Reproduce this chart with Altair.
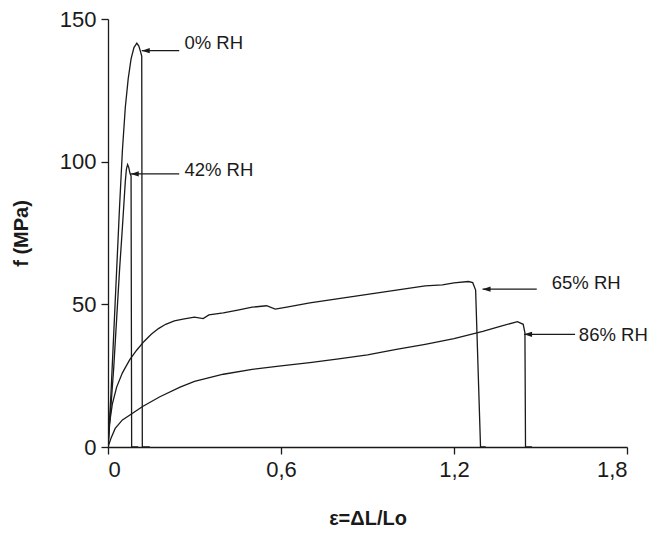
import altair as alt
import pandas as pd

# ---- data ----
series_names = ["0% RH", "42% RH", "65% RH", "86% RH"]

x_0 = [0, 0.01, 0.02, 0.03, 0.04, 0.05, 0.06, 0.07, 0.08, 0.09, 0.10, 0.107, 0.113, 0.117, 0.119, 0.145]
y_0 = [0, 18, 40, 62, 84, 104, 119, 129, 136, 140, 141.5, 140.5, 138.5, 137, 0, 0]

x_42 = [0, 0.01, 0.02, 0.03, 0.04, 0.05, 0.055, 0.06, 0.064, 0.068, 0.072, 0.076, 0.08, 0.082, 0.105]
y_42 = [0, 14, 28, 45, 62, 77, 85, 93, 97.5, 99, 98, 96, 95, 0, 0]

x_65 = [0, 0.005, 0.015, 0.03, 0.05, 0.075, 0.1, 0.125, 0.15, 0.175, 0.2, 0.23, 0.26, 0.3, 0.33, 0.35,
        0.4, 0.45, 0.5, 0.55, 0.58, 0.62, 0.7, 0.8, 0.9, 1.0, 1.1, 1.16, 1.2, 1.25, 1.265, 1.275, 1.292, 1.31]
y_65 = [0, 8, 15, 21, 26, 30.5, 34, 37, 39.5, 41.5, 43, 44.2, 44.8, 45.5, 45, 46.3,
        47, 48, 49, 49.5, 48.3, 49, 50.5, 52, 53.5, 55, 56.5, 56.8, 57.5, 58, 57.6, 55, 0, 0]

x_86 = [0, 0.01, 0.025, 0.05, 0.08, 0.12, 0.18, 0.25, 0.3, 0.4, 0.5, 0.6, 0.7, 0.8, 0.9, 1.0, 1.1,
        1.2, 1.3, 1.36, 1.42, 1.44, 1.446, 1.448, 1.47]
y_86 = [0, 3, 6.5, 9.5, 11.5, 14.2, 17.6, 21, 23, 25.5, 27.2, 28.4, 29.6, 30.9, 32.3, 34.2, 36,
        38, 40.5, 42.3, 43.9, 43, 40, 0, 0]

# annotations
label_x = [0.265, 0.265, 1.539, 1.633]
label_y = [141.6, 97.1, 57.4, 39.3]
arrow_tail = [0.247, 0.247, 1.487, 1.62]
arrow_tip = [0.117, 0.079, 1.299, 1.443]
arrow_y = [138.9, 95.7, 55.3, 39.5]

# ---- build tables ----
rows = []
for name, xs, ys in zip(series_names, [x_0, x_42, x_65, x_86], [y_0, y_42, y_65, y_86]):
    for i, (xv, yv) in enumerate(zip(xs, ys)):
        rows.append({"series": name, "x": xv, "y": yv, "i": i})
curves = pd.DataFrame(rows)

ann = pd.DataFrame({
    "label": series_names,
    "lx": label_x, "ly": label_y,
    "tail": arrow_tail, "tip": arrow_tip, "ay": arrow_y,
})

FONT = "Liberation Sans"
INK = "#1a1a1a"

xscale = alt.Scale(domain=[0, 1.8], nice=False, zero=False)
yscale = alt.Scale(domain=[0, 150], nice=False)

xaxis = alt.Axis(values=[0, 0.6, 1.2, 1.8],
                 labelExpr="replace(format(datum.value, '.1~f'), '.', ',')",
                 title="ε=ΔL/Lo", grid=False)
yaxis = alt.Axis(values=[0, 50, 100, 150], title="f (MPa)", grid=False)

lines = alt.Chart(curves).mark_line(color=INK, strokeWidth=1.3, clip=True).encode(
    x=alt.X("x:Q", scale=xscale, axis=xaxis),
    y=alt.Y("y:Q", scale=yscale, axis=yaxis),
    detail="series:N",
    order="i:Q",
)

arrows = alt.Chart(ann).mark_rule(color=INK, strokeWidth=1.2).encode(
    x=alt.X("tail:Q", scale=xscale),
    x2="tip:Q",
    y=alt.Y("ay:Q", scale=yscale),
)

heads = alt.Chart(ann).mark_point(
    shape="M0,0 L2,-0.65 L2,0.65 Z", size=64, filled=True, color=INK, opacity=1
).encode(
    x=alt.X("tip:Q", scale=xscale),
    y=alt.Y("ay:Q", scale=yscale),
)

texts = alt.Chart(ann).mark_text(
    align="left", baseline="middle", font=FONT, fontSize=18.5, color=INK
).encode(
    x=alt.X("lx:Q", scale=xscale),
    y=alt.Y("ly:Q", scale=yscale),
    text="label:N",
)

chart = alt.layer(lines, arrows, heads, texts).properties(
    width=519, height=428,
    autosize=alt.AutoSizeParams(type="none"),
    padding={"left": 100, "top": 11, "right": 22, "bottom": 84},
).configure_view(stroke=None).configure_axis(
    domainColor=INK, tickColor=INK, domainWidth=1.3, tickWidth=1.3, tickSize=7,
    labelFont=FONT, labelFontSize=22, labelColor=INK, labelPadding=5,
    titleFont=FONT, titleFontSize=20, titleFontWeight="bold", titleColor=INK,
).configure_axisX(titlePadding=28).configure_axisY(titlePadding=28)

chart.save("out.html", embed_options={"renderer": "svg", "actions": False})
